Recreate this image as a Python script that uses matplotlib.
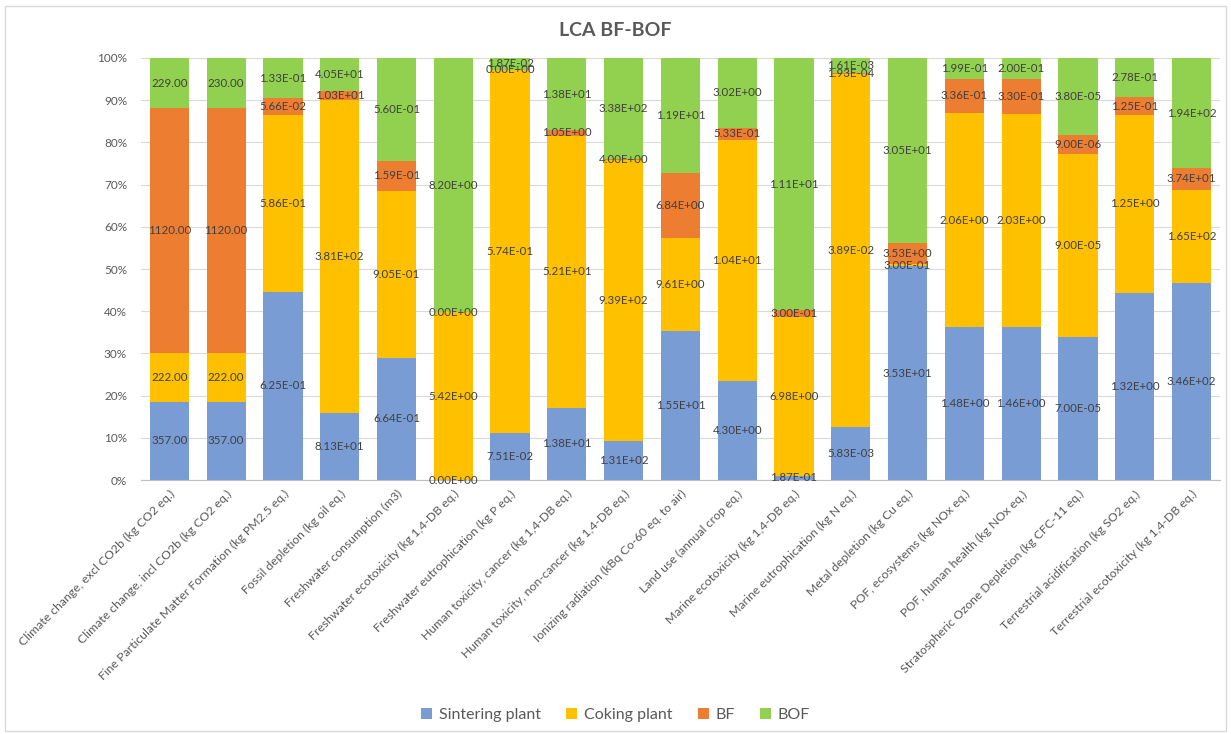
import matplotlib
matplotlib.use("Agg")
import matplotlib.pyplot as plt
import numpy as np
from matplotlib.patches import Rectangle
from matplotlib.ticker import PercentFormatter

plt.rcParams['font.family'] = ['Lato', 'DejaVu Sans']

categories = [
    "Climate change, excl CO2b (kg CO2 eq.)",
    "Climate change, incl CO2b (kg CO2 eq.)",
    "Fine Particulate Matter Formation (kg PM2.5 eq.)",
    "Fossil depletion (kg oil eq.)",
    "Freshwater consumption (m3)",
    "Freshwater ecotoxicity (kg 1,4-DB eq.)",
    "Freshwater eutrophication (kg P eq.)",
    "Human toxicity, cancer (kg 1,4-DB eq.)",
    "Human toxicity, non-cancer (kg 1,4-DB eq.)",
    "Ionizing radiation (kBq Co-60 eq. to air)",
    "Land use (annual crop eq.)",
    "Marine ecotoxicity (kg 1,4-DB eq.)",
    "Marine eutrophication (kg N eq.)",
    "Metal depletion (kg Cu eq.)",
    "POF, ecosystems (kg NOx eq.)",
    "POF, human health (kg NOx eq.)",
    "Stratospheric Ozone Depletion (kg CFC-11 eq.)",
    "Terrestrial acidification (kg SO2 eq.)",
    "Terrestrial ecotoxicity (kg 1,4-DB eq.)",
]

sintering = [357.0, 357.0, 0.625, 81.3, 0.664, 0.0, 0.0751, 13.8, 131.0, 15.5,
             4.30, 0.187, 0.00583, 35.3, 1.48, 1.46, 7.00e-5, 1.32, 346.0]
coking = [222.0, 222.0, 0.586, 381.0, 0.905, 5.42, 0.574, 52.1, 939.0, 9.61,
          10.4, 6.98, 0.0389, 0.300, 2.06, 2.03, 9.00e-5, 1.25, 165.0]
bf = [1120.0, 1120.0, 0.0566, 10.3, 0.159, 0.0, 0.0, 1.05, 4.00, 6.84,
      0.533, 0.300, 0.000193, 3.53, 0.336, 0.330, 9.00e-6, 0.125, 37.4]
bof = [229.0, 230.0, 0.133, 40.5, 0.560, 8.20, 0.0187, 13.8, 338.0, 11.9,
       3.02, 11.1, 0.00161, 30.5, 0.199, 0.200, 3.80e-5, 0.278, 194.0]

series_names = ["Sintering plant", "Coking plant", "BF", "BOF"]
colors = ["#7A9CD5", "#FFC000", "#ED7D31", "#92D050"]
# number format per category: fixed decimals for the first two, scientific otherwise
label_fmt = ["{:.2f}", "{:.2f}"] + ["{:.2E}"] * 17

data = np.array([sintering, coking, bf, bof], dtype=float)
totals = data.sum(axis=0)
shares = data / totals * 100.0

fig = plt.figure(figsize=(12.31, 7.34), dpi=100)
ax = fig.add_axes([0.1145, 0.346, 0.8765, 0.575])

x = np.arange(len(categories))
bottom = np.zeros(len(categories))
for i, (name, col) in enumerate(zip(series_names, colors)):
    ax.bar(x, shares[i], bottom=bottom, width=0.69, color=col, label=name, zorder=2)
    for j in range(len(categories)):
        yc = bottom[j] + shares[i][j] / 2.0
        ax.text(x[j], yc, label_fmt[j].format(data[i][j]), ha='center', va='center',
                fontsize=8.3, color='#404040', zorder=3)
    bottom += shares[i]

ax.set_xlim(-0.5, len(categories) - 0.5)
ax.set_ylim(0, 100)
ax.set_yticks(np.arange(0, 101, 10))
ax.yaxis.set_major_formatter(PercentFormatter(decimals=0))
ax.grid(axis='y', color='#D9D9D9', linewidth=0.8, zorder=0)
ax.set_axisbelow(True)
for s in ['top', 'right', 'left']:
    ax.spines[s].set_visible(False)
ax.spines['bottom'].set_color('#BFBFBF')
ax.tick_params(axis='y', length=0, labelsize=8.5, labelcolor='#595959', pad=10)
ax.tick_params(axis='x', length=0, labelsize=8.8, labelcolor='#595959', pad=6)
ax.set_xticks(x)
ax.set_xticklabels(categories, rotation=45, ha='right', rotation_mode='anchor')

fig.text(0.5, 0.958, "LCA BF-BOF", ha='center', va='center', fontsize=14,
         fontweight='bold', color='#595959')

leg = fig.legend(loc='center', bbox_to_anchor=(0.5, 0.026), ncol=4, frameon=False,
                 fontsize=11.5, handlelength=0.7, handleheight=0.7, columnspacing=1.6,
                 handletextpad=0.4)
for t in leg.get_texts():
    t.set_color('#595959')

fig.patches.append(Rectangle((0.004, 0.004), 0.992, 0.988, transform=fig.transFigure,
                             fill=False, edgecolor='#D9D9D9', linewidth=1.0))

fig.savefig("out.png", dpi=100)
